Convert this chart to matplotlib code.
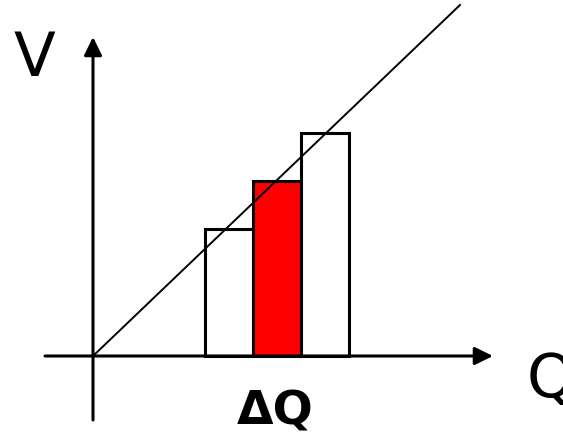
import matplotlib.pyplot as plt

# bar data (units: px from origin)
bar_left = [112, 160, 208]
bar_width = 48
bar_height = [127, 175, 223]
bar_color = ['white', 'red', 'white']

# reference line V = k*Q
line_q = [0, 367]
line_v = [0, 351]

fig = plt.figure(figsize=(5.63, 4.36), dpi=100)
ax = fig.add_axes([0, 0, 1, 1])
ax.set_xlim(-93, 470)
ax.set_ylim(-80, 356)
ax.axis('off')

ax.bar(bar_left, bar_height, width=bar_width, align='edge',
       color=bar_color, edgecolor='black', linewidth=2.2, zorder=2)

ax.plot(line_q, line_v, color='black', lw=1.4, zorder=3)

arrow = dict(arrowstyle='-|>,head_length=0.55,head_width=0.27',
             color='black', lw=2.2, mutation_scale=20, shrinkA=0, shrinkB=0)
ax.annotate('', xy=(400, 0), xytext=(-48, 0), arrowprops=arrow, zorder=4)
ax.annotate('', xy=(0, 319), xytext=(0, -64), arrowprops=arrow, zorder=4)

ax.text(-59, 296, 'V', fontsize=44, ha='center', va='center')
ax.text(434, -24, 'Q', fontsize=44, ha='left', va='center')
ax.text(182, -56, 'ΔQ', fontsize=34, fontweight='bold', ha='center', va='center')

fig.savefig('out.png', dpi=100)
